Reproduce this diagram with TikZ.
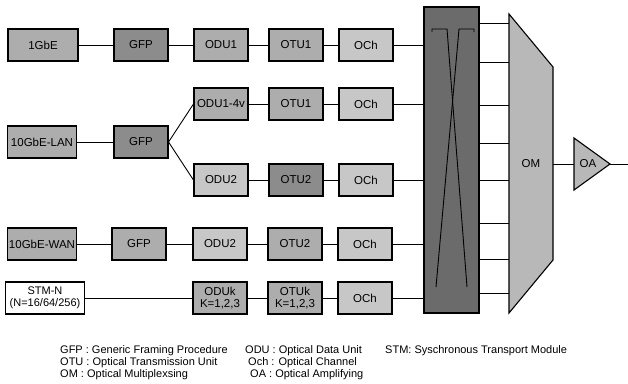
\documentclass[tikz,border=0pt]{standalone}
\usepackage{fontspec}
\setmainfont{Liberation Sans}

\begin{document}
\begin{tikzpicture}[x=1pt,y=-1pt,
    every node/.style={font=\fontsize{11.5}{12}\selectfont},
    box/.style={draw=black,line width=1.1pt,minimum width=54pt,minimum height=32pt,inner sep=0pt},
    lightbox/.style={box,fill=black!22},
    midbox/.style={box,fill=black!32},
    darkbox/.style={box,fill=black!45},
    link/.style={draw=black,line width=0.9pt},
    legend/.style={anchor=west,inner sep=0pt,font=\fontsize{11}{12}\selectfont},
]
\useasboundingbox (0,0) rectangle (628,383);
% Row 1
\node[midbox,minimum width=70pt] (gbe) at (43,45) {1GbE};
\node[darkbox]  (gfpA) at (141,45) {GFP};
\node[midbox]   (oduA) at (221,45) {ODU1};
\node[midbox]   (otuA) at (296,45) {OTU1};
\node[lightbox] (ochA) at (366,45) {OCh};
% Row 2 and 3
\node[midbox]   (oduB) at (221,104) {ODU1-4v};
\node[midbox]   (otuB) at (296,104) {OTU1};
\node[lightbox] (ochB) at (366,104) {OCh};
\node[midbox,minimum width=69pt] (lan) at (42,142) {10GbE-LAN};
\node[darkbox]  (gfpB) at (141,142) {GFP};
\node[lightbox] (oduC) at (221,180) {ODU2};
\node[darkbox]  (otuC) at (296,180) {OTU2};
\node[lightbox] (ochC) at (366,180) {OCh};
% Row 5
\node[midbox,minimum width=69pt] (wan) at (42,244) {10GbE-WAN};
\node[midbox]   (gfpC) at (139,244) {GFP};
\node[lightbox] (oduD) at (220,244) {ODU2};
\node[midbox]   (otuD) at (295,244) {OTU2};
\node[lightbox] (ochD) at (365,244) {OCh};
% Row 6
\node[box,fill=white,minimum width=79pt,align=center,font=\fontsize{11}{12.5}\selectfont] (stm) at (45,298) {STM-N\\(N=16/64/256)};
\node[midbox,align=center] (oduE) at (220,298) {ODUk\\K=1,2,3};
\node[midbox,align=center] (otuE) at (295,298) {OTUk\\K=1,2,3};
\node[lightbox] (ochE) at (365,298) {OCh};
% Links between boxes
\draw[link] (gbe) -- (gfpA) -- (oduA) -- (otuA) -- (ochA);
\draw[link] (lan) -- (gfpB);
\draw[link] (gfpB.east) -- (oduB.west);
\draw[link] (gfpB.east) -- (oduC.west);
\draw[link] (oduB) -- (otuB) -- (ochB);
\draw[link] (oduC) -- (otuC) -- (ochC);
\draw[link] (wan) -- (gfpC) -- (oduD) -- (otuD) -- (ochD);
\draw[link] (stm) -- (oduE) -- (otuE) -- (ochE);
% Cross connect
\node[draw=black,line width=1.3pt,fill=black!58,minimum width=55pt,minimum height=306pt,inner sep=0pt] (xc) at (451.5,160) {};
\draw[line width=0.9pt] (432,32) -- (432,29) -- (447,29) -- (467,287);
\draw[line width=0.9pt] (474,32) -- (474,29) -- (459,29) -- (436,287);
\foreach \och in {ochA,ochB,ochC,ochD,ochE}
    \draw[link] (\och) -- (\och -| xc.west);
% Multiplexer
\coordinate (omw) at (509,0);
\draw[line width=1.1pt,fill=black!28] (509,14) -- (553,67) -- (553,260) -- (509,313) -- cycle;
\node (om) at (531,164) {OM};
\foreach \y in {23,62,105,143,180,223,259,293}
    \draw[link] (xc.east |- 0,\y) -- (omw |- 0,\y);
% Amplifier
\coordinate (omout) at (553,164);
\coordinate (oain) at (574,164);
\coordinate (oaout) at (610,164);
\coordinate (lineend) at (628,164);
\draw[line width=1.1pt,fill=black!28] (574,138) -- (oaout) -- (574,190) -- cycle;
\node (oa) at (588,164) {OA};
\draw[link] (omout) -- (oain);
\draw[link] (oaout) -- (lineend);
% Legend
\node[legend] (lgfp) at (60,351) {GFP : Generic Framing Procedure};
\node[legend] (lotu) at (60,363) {OTU : Optical Transmission Unit};
\node[legend] (lom)  at (60,375) {OM : Optical Multiplexsing};
\node[legend] (lodu) at (245,351) {ODU : Optical Data Unit};
\node[legend] (loch) at (248,363) {Och : Optical Channel};
\node[legend] (loa)  at (250,375) {OA : Optical Amplifying};
\node[legend] (lstm) at (385,351) {STM: Syschronous Transport Module};
\end{tikzpicture}
\end{document}
